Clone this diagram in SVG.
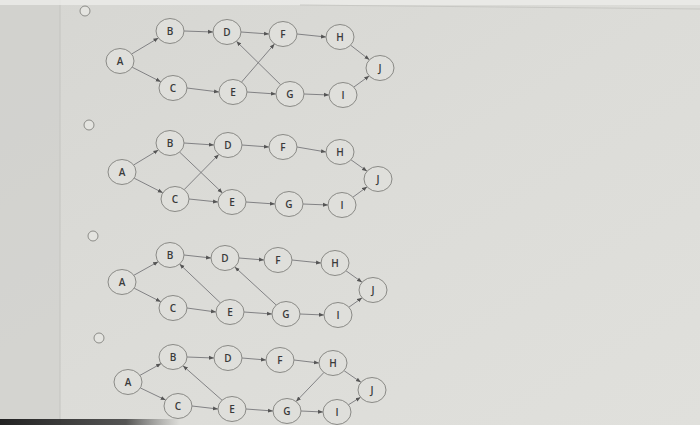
<svg xmlns="http://www.w3.org/2000/svg" width="700" height="425" viewBox="0 0 700 425">
<defs>
<linearGradient id="bg" x1="0" y1="0" x2="1" y2="1">
<stop offset="0" stop-color="#d6d6d2"/>
<stop offset="0.5" stop-color="#dcdcd8"/>
<stop offset="1" stop-color="#e0e0dc"/>
</linearGradient>
<linearGradient id="bar" x1="0" y1="0" x2="1" y2="0">
<stop offset="0" stop-color="#222" stop-opacity="1"/>
<stop offset="0.7" stop-color="#333" stop-opacity="0.8"/>
<stop offset="1" stop-color="#555" stop-opacity="0"/>
</linearGradient>
<marker id="ah" viewBox="0 0 10 10" refX="10" refY="5" markerWidth="5" markerHeight="5" markerUnits="userSpaceOnUse" orient="auto">
<path d="M0,1 L10,5 L0,9 Z" fill="#555"/>
</marker>
</defs>
<style>
.n ellipse{fill:#dfdfdb;stroke:#8a8a86;stroke-width:1}
.n text{font-family:"Open Sans","Liberation Sans",sans-serif;font-size:10px;font-weight:600;fill:#3a3a3a;text-anchor:middle;dominant-baseline:central}
.e line{stroke:#77777a;stroke-width:0.9;marker-end:url(#ah)}
.radio{fill:#e4e4e0;stroke:#8c8c88;stroke-width:1}
</style>
<rect x="0" y="0" width="700" height="425" fill="url(#bg)"/>
<rect x="0" y="0" width="60" height="425" fill="#cfcfcb" opacity="0.6"/>
<line x1="60" y1="0" x2="60" y2="425" stroke="#c4c4c0" stroke-width="1"/>
<rect x="0" y="0" width="700" height="5" fill="#ececea" opacity="0.8"/>
<line x1="300" y1="5" x2="700" y2="9" stroke="#c8c8c4" stroke-width="1"/>
<rect x="0" y="419" width="180" height="6" fill="url(#bar)"/>

<g id="radios">
<circle class="radio" cx="85" cy="11" r="5"/>
<circle class="radio" cx="89" cy="125" r="5"/>
<circle class="radio" cx="93" cy="236" r="5"/>
<circle class="radio" cx="99" cy="338" r="5"/>
</g>

<g id="connectors" class="e">
<!-- option 1 -->
<line x1="131.6" y1="54" x2="158.4" y2="38"/>
<line x1="132.2" y1="67.2" x2="160.8" y2="81.8"/>
<line x1="184" y1="31" x2="213" y2="32"/>
<line x1="241" y1="32" x2="269" y2="34"/>
<line x1="297" y1="34" x2="326" y2="37"/>
<line x1="350.6" y1="45.2" x2="369.4" y2="59.8"/>
<line x1="187" y1="88" x2="219" y2="92"/>
<line x1="247" y1="92" x2="276" y2="94"/>
<line x1="304" y1="94" x2="329" y2="95"/>
<line x1="353.8" y1="87.1" x2="369.2" y2="75.9"/>
<line x1="241.5" y1="82.1" x2="274.5" y2="43.9"/>
<line x1="280.6" y1="84.7" x2="236.4" y2="41.3"/>
<!-- option 2 -->
<line x1="133.6" y1="165" x2="158.4" y2="150"/>
<line x1="134.2" y1="178.2" x2="162.8" y2="192.8"/>
<line x1="184" y1="143" x2="214" y2="145"/>
<line x1="242" y1="145" x2="269" y2="147"/>
<line x1="297" y1="147" x2="326" y2="152"/>
<line x1="351" y1="159.8" x2="367" y2="171.2"/>
<line x1="179.6" y1="152.1" x2="222.4" y2="192.9"/>
<line x1="184.2" y1="189.6" x2="218.8" y2="154.4"/>
<line x1="189" y1="199" x2="218" y2="202"/>
<line x1="246" y1="202" x2="275" y2="204"/>
<line x1="303" y1="204" x2="328" y2="205"/>
<line x1="352.9" y1="197.2" x2="367.1" y2="186.8"/>
<!-- option 3 -->
<line x1="133.8" y1="275.3" x2="158.2" y2="261.7"/>
<line x1="134.2" y1="288.2" x2="160.8" y2="301.8"/>
<line x1="184" y1="255" x2="211" y2="258"/>
<line x1="239" y1="258" x2="264" y2="260"/>
<line x1="292" y1="260" x2="321" y2="263"/>
<line x1="346" y1="270.8" x2="362" y2="282.2"/>
<line x1="187" y1="308" x2="216" y2="312"/>
<line x1="220.4" y1="302.9" x2="179.6" y2="264.1"/>
<line x1="244" y1="312" x2="272" y2="314"/>
<line x1="276.2" y1="305" x2="234.8" y2="267"/>
<line x1="300" y1="314" x2="324" y2="315"/>
<line x1="348.9" y1="307.2" x2="362.1" y2="297.8"/>
<!-- option 4 -->
<line x1="139.9" y1="375.4" x2="161.1" y2="363.6"/>
<line x1="140.3" y1="387.9" x2="165.7" y2="400.1"/>
<line x1="187" y1="357" x2="214" y2="358"/>
<line x1="242" y1="358" x2="266" y2="360"/>
<line x1="294" y1="360" x2="319" y2="363"/>
<line x1="344.1" y1="370.7" x2="360.9" y2="382.3"/>
<line x1="192" y1="406" x2="218" y2="409"/>
<line x1="222" y1="400.2" x2="183" y2="365.8"/>
<line x1="246" y1="409" x2="273" y2="411"/>
<line x1="323.9" y1="372.5" x2="296.1" y2="401.5"/>
<line x1="301" y1="411" x2="323" y2="412"/>
<line x1="348.4" y1="404.8" x2="360.6" y2="397.2"/>
</g>

<g id="opt1">
<g id="o1A" class="n"><ellipse cx="120" cy="61" rx="14" ry="12.5"/><text x="120" y="61">A</text></g>
<g id="o1B" class="n"><ellipse cx="170" cy="31" rx="14" ry="12.5"/><text x="170" y="31">B</text></g>
<g id="o1D" class="n"><ellipse cx="227" cy="32" rx="14" ry="12.5"/><text x="227" y="32">D</text></g>
<g id="o1F" class="n"><ellipse cx="283" cy="34" rx="14" ry="12.5"/><text x="283" y="34">F</text></g>
<g id="o1H" class="n"><ellipse cx="340" cy="37" rx="14" ry="12.5"/><text x="340" y="37">H</text></g>
<g id="o1J" class="n"><ellipse cx="380" cy="68" rx="14" ry="12.5"/><text x="380" y="68">J</text></g>
<g id="o1C" class="n"><ellipse cx="173" cy="88" rx="14" ry="12.5"/><text x="173" y="88">C</text></g>
<g id="o1E" class="n"><ellipse cx="233" cy="92" rx="14" ry="12.5"/><text x="233" y="92">E</text></g>
<g id="o1G" class="n"><ellipse cx="290" cy="94" rx="14" ry="12.5"/><text x="290" y="94">G</text></g>
<g id="o1I" class="n"><ellipse cx="343" cy="95" rx="14" ry="12.5"/><text x="343" y="95">I</text></g>
</g>

<g id="opt2">
<g id="o2A" class="n"><ellipse cx="122" cy="172" rx="14" ry="12.5"/><text x="122" y="172">A</text></g>
<g id="o2B" class="n"><ellipse cx="170" cy="143" rx="14" ry="12.5"/><text x="170" y="143">B</text></g>
<g id="o2D" class="n"><ellipse cx="228" cy="145" rx="14" ry="12.5"/><text x="228" y="145">D</text></g>
<g id="o2F" class="n"><ellipse cx="283" cy="147" rx="14" ry="12.5"/><text x="283" y="147">F</text></g>
<g id="o2H" class="n"><ellipse cx="340" cy="152" rx="14" ry="12.5"/><text x="340" y="152">H</text></g>
<g id="o2J" class="n"><ellipse cx="378" cy="179" rx="14" ry="12.5"/><text x="378" y="179">J</text></g>
<g id="o2C" class="n"><ellipse cx="175" cy="199" rx="14" ry="12.5"/><text x="175" y="199">C</text></g>
<g id="o2E" class="n"><ellipse cx="232" cy="202" rx="14" ry="12.5"/><text x="232" y="202">E</text></g>
<g id="o2G" class="n"><ellipse cx="289" cy="204" rx="14" ry="12.5"/><text x="289" y="204">G</text></g>
<g id="o2I" class="n"><ellipse cx="342" cy="205" rx="14" ry="12.5"/><text x="342" y="205">I</text></g>
</g>

<g id="opt3">
<g id="o3A" class="n"><ellipse cx="122" cy="282" rx="14" ry="12.5"/><text x="122" y="282">A</text></g>
<g id="o3B" class="n"><ellipse cx="170" cy="255" rx="14" ry="12.5"/><text x="170" y="255">B</text></g>
<g id="o3D" class="n"><ellipse cx="225" cy="258" rx="14" ry="12.5"/><text x="225" y="258">D</text></g>
<g id="o3F" class="n"><ellipse cx="278" cy="260" rx="14" ry="12.5"/><text x="278" y="260">F</text></g>
<g id="o3H" class="n"><ellipse cx="335" cy="263" rx="14" ry="12.5"/><text x="335" y="263">H</text></g>
<g id="o3J" class="n"><ellipse cx="373" cy="290" rx="14" ry="12.5"/><text x="373" y="290">J</text></g>
<g id="o3C" class="n"><ellipse cx="173" cy="308" rx="14" ry="12.5"/><text x="173" y="308">C</text></g>
<g id="o3E" class="n"><ellipse cx="230" cy="312" rx="14" ry="12.5"/><text x="230" y="312">E</text></g>
<g id="o3G" class="n"><ellipse cx="286" cy="314" rx="14" ry="12.5"/><text x="286" y="314">G</text></g>
<g id="o3I" class="n"><ellipse cx="338" cy="315" rx="14" ry="12.5"/><text x="338" y="315">I</text></g>
</g>

<g id="opt4">
<g id="o4A" class="n"><ellipse cx="128" cy="382" rx="14" ry="12.5"/><text x="128" y="382">A</text></g>
<g id="o4B" class="n"><ellipse cx="173" cy="357" rx="14" ry="12.5"/><text x="173" y="357">B</text></g>
<g id="o4D" class="n"><ellipse cx="228" cy="358" rx="14" ry="12.5"/><text x="228" y="358">D</text></g>
<g id="o4F" class="n"><ellipse cx="280" cy="360" rx="14" ry="12.5"/><text x="280" y="360">F</text></g>
<g id="o4H" class="n"><ellipse cx="333" cy="363" rx="14" ry="12.5"/><text x="333" y="363">H</text></g>
<g id="o4J" class="n"><ellipse cx="372" cy="390" rx="14" ry="12.5"/><text x="372" y="390">J</text></g>
<g id="o4C" class="n"><ellipse cx="178" cy="406" rx="14" ry="12.5"/><text x="178" y="406">C</text></g>
<g id="o4E" class="n"><ellipse cx="232" cy="409" rx="14" ry="12.5"/><text x="232" y="409">E</text></g>
<g id="o4G" class="n"><ellipse cx="287" cy="411" rx="14" ry="12.5"/><text x="287" y="411">G</text></g>
<g id="o4I" class="n"><ellipse cx="337" cy="412" rx="14" ry="12.5"/><text x="337" y="412">I</text></g>
</g>
</svg>
